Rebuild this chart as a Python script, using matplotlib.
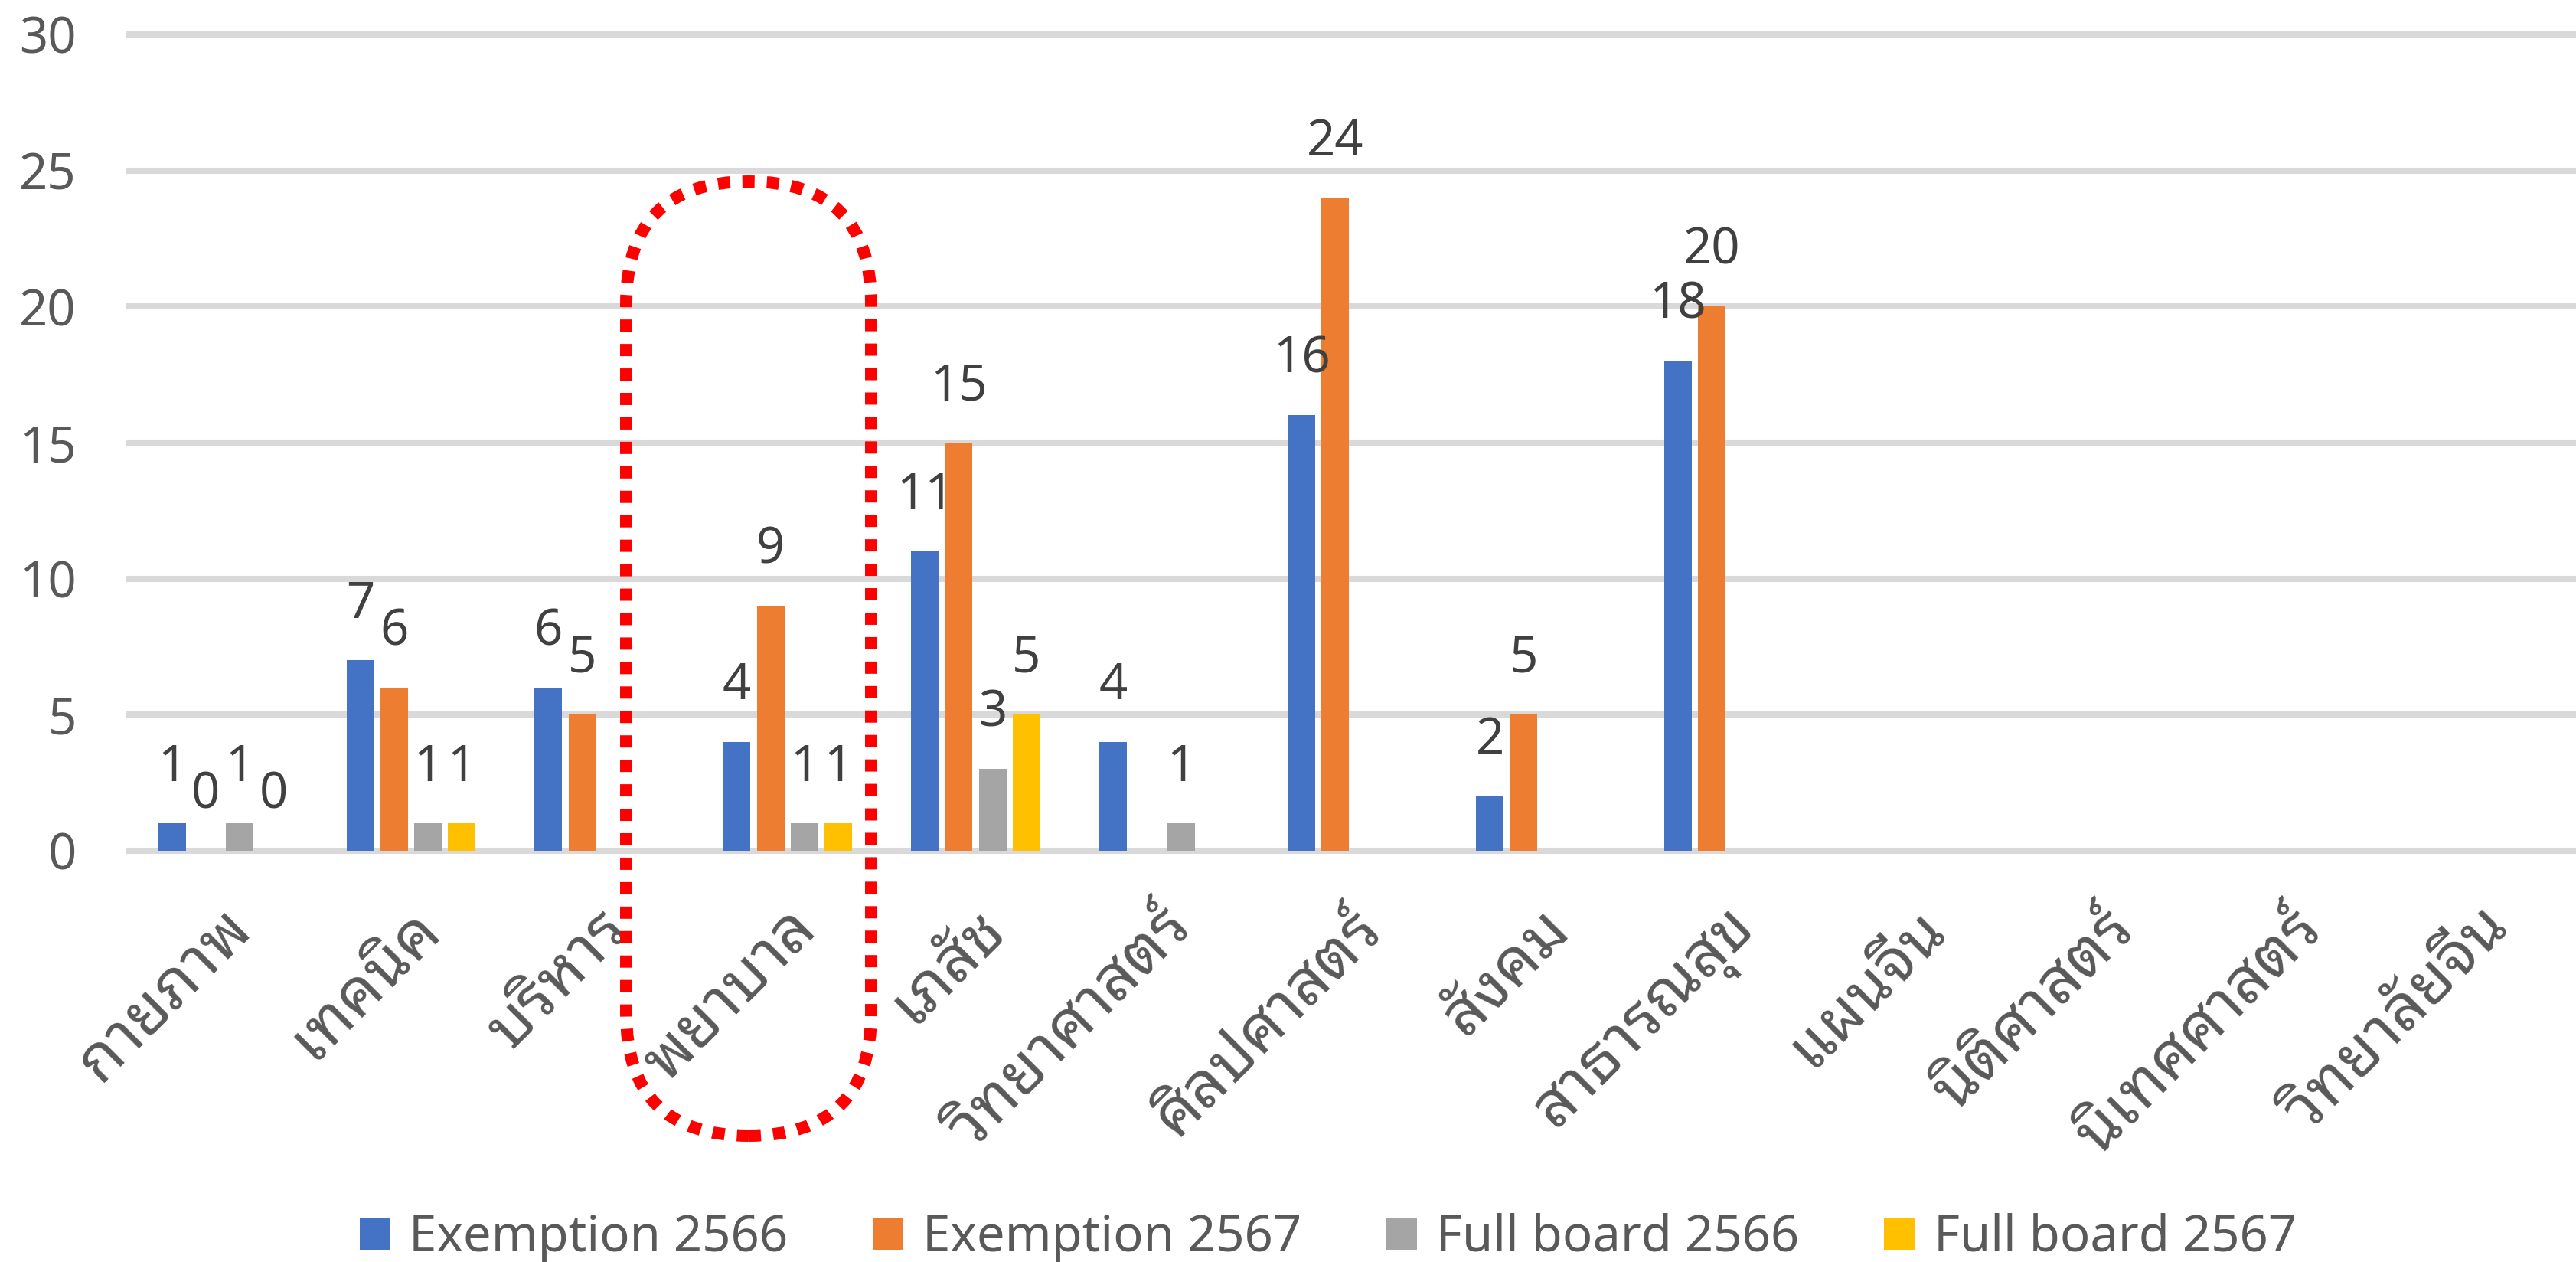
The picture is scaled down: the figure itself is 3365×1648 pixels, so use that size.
"""
Gráfico de barras agrupadas: Exemption / Full board 2566-2567 por facultad.
Genera la imagen: out.png
"""

import matplotlib
matplotlib.use('Agg')
import matplotlib.pyplot as plt
from matplotlib.patches import Patch, FancyBboxPatch
from matplotlib.transforms import Affine2D, ScaledTranslation
import numpy as np

plt.rcParams['font.family'] = ['Noto Sans', 'Noto Sans Thai Looped', 'DejaVu Sans']

# ========== DATOS ==========
categorias = ['กายภาพ', 'เทคนิค', 'บริหาร', 'พยาบาล', 'เภสัช', 'วิทยาศาสตร์',
              'ศิลปศาสตร์', 'สังคม', 'สาธารณสุข', 'แผนจีน', 'นิติศาสตร์',
              'นิเทศศาสตร์', 'วิทยาลัยจีน']
nan = np.nan
exemption_2566 = [1, 7, 6, 4, 11, 4, 16, 2, 18, nan, nan, nan, nan]
exemption_2567 = [0, 6, 5, 9, 15, nan, 24, 5, 20, nan, nan, nan, nan]
fullboard_2566 = [1, 1, nan, 1, 3, 1, nan, nan, nan, nan, nan, nan, nan]
fullboard_2567 = [0, 1, nan, 1, 5, nan, nan, nan, nan, nan, nan, nan, nan]

series = [
    ('Exemption 2566', exemption_2566, '#4472C4'),
    ('Exemption 2567', exemption_2567, '#ED7D31'),
    ('Full board 2566', fullboard_2566, '#A5A5A5'),
    ('Full board 2567', fullboard_2567, '#FFC000'),
]
yticks = [0, 5, 10, 15, 20, 25, 30]

# ========== FIGURA ==========
W, H, DPI = 3365, 1648, 100
fig = plt.figure(figsize=(W / DPI, H / DPI), dpi=DPI, facecolor='white')
ax = fig.add_axes([168 / W, 1 - 1111 / H, 1 - 168 / W, (1111 - 45) / H])

fs = 47
x = np.arange(len(categorias))
ancho = 0.146
offsets = [-0.27, -0.09, 0.09, 0.27]

for (nombre, vals, color), off in zip(series, offsets):
    vals = np.array(vals, dtype=float)
    ok = ~np.isnan(vals)
    ax.bar(x[ok] + off, vals[ok], width=ancho, color=color, zorder=3)
    for xi, v in zip(x[ok] + off, vals[ok]):
        ax.annotate(f'{int(v)}', (xi, v), xytext=(0, 40), textcoords='offset points',
                    ha='center', va='baseline', fontsize=fs, color='#404040',
                    annotation_clip=False, zorder=4)

# Líneas de cuadrícula gruesas estilo Excel
for t in yticks:
    ax.axhline(t, color='#D9D9D9', linewidth=5.8, zorder=1, clip_on=False)

ax.set_xlim(-0.5, len(categorias) - 0.5)
ax.set_ylim(0, 30)
ax.set_yticks(yticks)
ax.set_yticklabels([str(t) for t in yticks])
ax.set_xticks(x)
ax.set_xticklabels(categorias, rotation=45, ha='right', va='top', rotation_mode='anchor')
ax.tick_params(axis='y', length=0, pad=49, labelsize=fs, labelcolor='#595959')
ax.tick_params(axis='x', length=0, pad=43, labelsize=60, labelcolor='#595959')
# pequeño ajuste horizontal de las etiquetas rotadas
dx = ScaledTranslation(-5 / DPI, 0, fig.dpi_scale_trans)
for lbl in ax.get_xticklabels():
    lbl.set_transform(lbl.get_transform() + dx)
for s in ax.spines.values():
    s.set_visible(False)

# Leyenda inferior
handles = [Patch(facecolor=c, edgecolor='none') for _, _, c in series]
fig.legend(handles, [n for n, _, _ in series], loc='center',
           bbox_to_anchor=(1735 / W, 1 - 1617 / H), ncol=4, frameon=False,
           fontsize=fs, labelcolor='#595959', handlelength=0.61, handleheight=0.61,
           handletextpad=0.38, columnspacing=1.7, borderpad=0)

# Marco punteado rojo alrededor de "พยาบาล"
px = Affine2D().scale(1 / W, 1 / H) + fig.transFigure
marco = FancyBboxPatch((818, H - 1483), 1138 - 818, 1483 - 237,
                       boxstyle='round,pad=0,rounding_size=160',
                       transform=px, fill=False, edgecolor='#FF0000',
                       linewidth=11.5, linestyle=(0, (1, 1)), capstyle='butt',
                       zorder=10)
fig.patches.append(marco)

fig.savefig('out.png', dpi=DPI, facecolor='white')
